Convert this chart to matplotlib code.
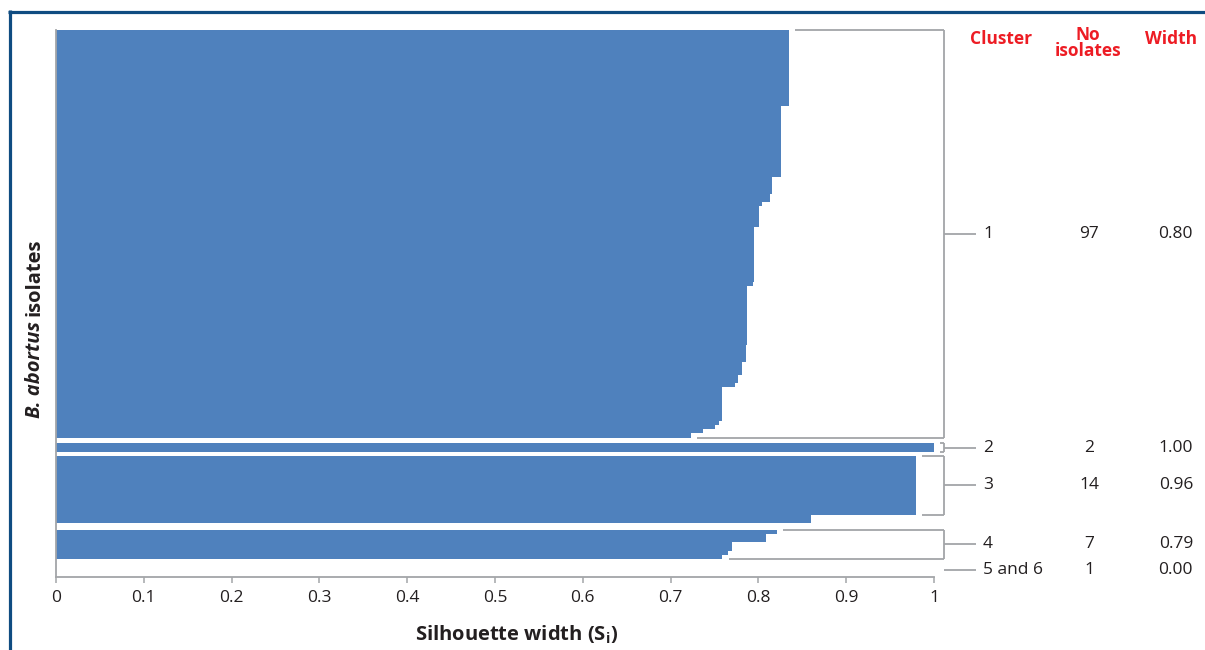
import matplotlib
matplotlib.use('Agg')
import matplotlib.pyplot as plt
import matplotlib.transforms as mtransforms

# ---------------- data ----------------
clusters = ['1', '2', '3', '4', '5 and 6']
n_isolates = [97, 2, 14, 7, 1]
avg_widths = [0.80, 1.00, 0.96, 0.79, 0.00]

# silhouette widths per cluster, as (value, number of isolates) runs
c1_values = [0.835, 0.826, 0.815, 0.813, 0.804, 0.801, 0.795, 0.794, 0.787,
             0.786, 0.781, 0.777, 0.773, 0.759, 0.755, 0.751, 0.737, 0.723]
c1_counts = [18, 17, 4, 2, 1, 5, 13, 1, 14, 4, 3, 2, 1, 8, 1, 1, 1, 1]
c2_values = [1.000]
c2_counts = [2]
c3_values = [0.979, 0.860]
c3_counts = [14, 2]
c4_values = [0.821, 0.809, 0.770, 0.765, 0.759]
c4_counts = [1, 2, 2, 1, 1]
c5_values = [0.000]
c5_counts = [1]

cluster_values = [c1_values, c2_values, c3_values, c4_values, c5_values]
cluster_counts = [c1_counts, c2_counts, c3_counts, c4_counts, c5_counts]

x_ticks = [0, 0.1, 0.2, 0.3, 0.4, 0.5, 0.6, 0.7, 0.8, 0.9, 1.0]
x_tick_labels = ['0', '0.1', '0.2', '0.3', '0.4', '0.5', '0.6', '0.7', '0.8', '0.9', '1']

# ---------------- style / layout ----------------
FONT = 'Open Sans'
plt.rcParams['font.family'] = [FONT, 'DejaVu Sans']
plt.rcParams['mathtext.fontset'] = 'custom'
plt.rcParams['mathtext.rm'] = FONT
plt.rcParams['mathtext.bf'] = FONT + ':bold'

BLUE = '#4F81BD'
GRAY = '#A3A5A8'
TXT = '#231F20'
RED = '#ED1C24'
FRAME = '#0F4C81'

W, H = 1205, 650
fig = plt.figure(figsize=(W / 100, H / 100), dpi=100)
ax = fig.add_axes([56 / W, 1 - 577 / H, (934 - 56) / W, (577 - 30) / H])

gaps_before = [0.0, 1.4, 1.0, 1.5, 2.2]   # blank rows between cluster blocks
bottom_pad = 1.1

# ---------------- bars ----------------
pos = 0.0
starts = []
for k in range(len(clusters)):
    pos += gaps_before[k]
    starts.append(pos)
    ys, ws = [], []
    for v, c in zip(cluster_values[k], cluster_counts[k]):
        for _ in range(c):
            ys.append(pos + 0.5)
            ws.append(v)
            pos += 1
    ax.barh(ys, ws, height=1.0, color=BLUE, linewidth=0, antialiased=False)
ymax = pos + bottom_pad

ax.set_xlim(0, 1)
ax.set_ylim(ymax, 0)

# ---------------- brackets and right-hand table ----------------
bx, tx, g = 1.0114, 1.048, 0.007
lkw = dict(color=GRAY, lw=1.3, clip_on=False, solid_capstyle='butt')
tr = mtransforms.blended_transform_factory(fig.transFigure, ax.transData)
for k in range(len(clusters)):
    top = starts[k]
    vals, cnts = cluster_values[k], cluster_counts[k]
    if k < len(clusters) - 1:
        bottom = top + n_isolates[k]
        acc = 0
        last_v = vals[0]
        for v, c in zip(vals, cnts):
            if acc < n_isolates[k]:
                last_v = v
            acc += c
        ax.plot([vals[0] + g, bx], [top, top], **lkw)
        ax.plot([last_v + g, bx], [bottom, bottom], **lkw)
        ax.plot([bx, bx], [top, bottom], **lkw)
        mid = (top + bottom) / 2
    else:
        mid = top + 0.5
    ax.plot([bx, tx], [mid, mid], **lkw)
    ax.text(983 / W, mid, clusters[k], transform=tr, ha='left', va='center',
            fontsize=12.5, color=TXT)
    ax.text(1089 / W, mid, str(n_isolates[k]), transform=tr, ha='center',
            va='center', fontsize=12.5, color=TXT)
    ax.text(1193 / W, mid, f'{avg_widths[k]:.2f}', transform=tr, ha='right',
            va='center', fontsize=12.5, color=TXT)

# headers
hkw = dict(fontsize=12.5, fontweight='bold', color=RED, ha='center', va='center')
fig.text(1001 / W, 1 - 39 / H, 'Cluster', **hkw)
fig.text(1088 / W, 1 - 43 / H, 'No\nisolates', linespacing=0.92, **hkw)
fig.text(1171 / W, 1 - 39 / H, 'Width', **hkw)

# ---------------- axes styling ----------------
for s in ['top', 'right']:
    ax.spines[s].set_visible(False)
for s in ['left', 'bottom']:
    ax.spines[s].set_color(GRAY)
    ax.spines[s].set_linewidth(1.3)
ax.set_yticks([])
ax.set_xticks(x_ticks)
ax.set_xticklabels(x_tick_labels)
ax.tick_params(axis='x', direction='out', length=4, width=1.1, color=GRAY,
               labelsize=12.5, labelcolor=TXT, pad=5)

fig.text(517 / W, 1 - 635 / H, r'Silhouette width (S$_{\mathbf{i}}$)',
         fontsize=14.5, fontweight='bold', color=TXT, ha='center', va='center')

# y label: "B. abortus" bold italic + " isolates" bold
fig.canvas.draw()
r = fig.canvas.get_renderer()
x0, y0 = 39.5 / W, 1 - 418 / H
t1 = fig.text(x0, y0, 'B. abortus', rotation=90, rotation_mode='anchor',
              ha='left', va='baseline', fontsize=14.5, fontweight='bold',
              fontstyle='italic', color=TXT)
h1 = t1.get_window_extent(r).height
fig.text(x0, y0 + (h1 + 5) / H, 'isolates', rotation=90, rotation_mode='anchor',
         ha='left', va='baseline', fontsize=14.5, fontweight='bold', color=TXT)

# frame
fig.add_artist(plt.Line2D([8 / W, 1], [1 - 11.5 / H, 1 - 11.5 / H],
                          transform=fig.transFigure, color=FRAME, lw=2.3,
                          solid_capstyle='butt'))
fig.add_artist(plt.Line2D([9.5 / W, 9.5 / W], [0, 1 - 10 / H],
                          transform=fig.transFigure, color=FRAME, lw=2.3,
                          solid_capstyle='butt'))

fig.savefig('out.png', dpi=100)
